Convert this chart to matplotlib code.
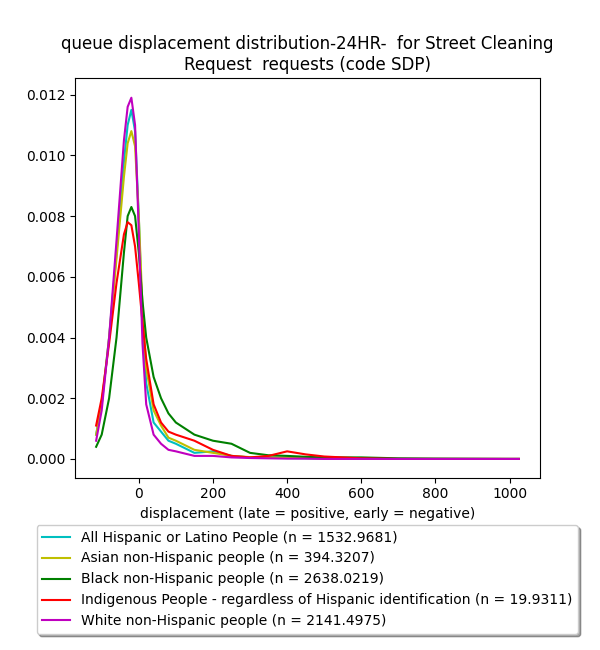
import matplotlib
matplotlib.use("Agg")
import matplotlib.pyplot as plt

x = [-115, -100, -80, -60, -40, -30, -20, -10, 0, 10, 20, 40, 60, 80, 100,
     150, 200, 250, 300, 350, 400, 450, 500, 600, 700, 800, 1000, 1025]

hispanic = [0.0008, 0.0018, 0.0040, 0.0068, 0.0098, 0.0110, 0.0115, 0.0108, 0.0080, 0.0045,
            0.0025, 0.0012, 0.0009, 0.0006, 0.0005, 0.0002, 0.00025, 0.0001, 0.00005, 0.00004,
            0.00003, 0.00002, 0.00001, 0.0, 0.0, 0.0, 0.0, 0.0]
asian = [0.0008, 0.0018, 0.0040, 0.0066, 0.0093, 0.0104, 0.0108, 0.0103, 0.0080, 0.0050,
         0.0030, 0.0016, 0.0011, 0.0007, 0.0006, 0.0003, 0.0002, 0.0001, 0.00006, 0.00005,
         0.00004, 0.00003, 0.00002, 0.00001, 0.0, 0.0, 0.0, 0.0]
black = [0.0004, 0.0008, 0.0020, 0.0040, 0.0068, 0.0080, 0.0083, 0.0080, 0.0068, 0.0052,
         0.0040, 0.0027, 0.0020, 0.0015, 0.0012, 0.0008, 0.0006, 0.0005, 0.0002, 0.00012,
         0.0001, 0.00007, 0.00005, 0.00005, 0.00002, 0.00001, 0.0, 0.0]
indigenous = [0.0011, 0.0020, 0.0038, 0.0058, 0.0074, 0.0078, 0.0077, 0.0070, 0.0058, 0.0045,
              0.0033, 0.0018, 0.0012, 0.0009, 0.0008, 0.0006, 0.0003, 0.0001, 0.00005, 0.0001,
              0.00025, 0.00015, 0.00008, 0.00002, 0.0, 0.0, 0.0, 0.0]
white = [0.0006, 0.0016, 0.0040, 0.0072, 0.0105, 0.0116, 0.0119, 0.0110, 0.0075, 0.0038,
         0.0018, 0.0008, 0.0005, 0.0003, 0.00025, 0.0001, 0.0001, 0.00005, 0.00003, 0.00002,
         0.00001, 0.00001, 0.0, 0.0, 0.0, 0.0, 0.0, 0.0]

series = [
    ("All Hispanic or Latino People (n = 1532.9681)", hispanic, "c"),
    ("Asian non-Hispanic people (n = 394.3207)", asian, "y"),
    ("Black non-Hispanic people (n = 2638.0219)", black, "g"),
    ("Indigenous People - regardless of Hispanic identification (n = 19.9311)", indigenous, "r"),
    ("White non-Hispanic people (n = 2141.4975)", white, "m"),
]

fig = plt.figure(figsize=(6, 6.5), dpi=100)
ax = fig.add_axes([0.125, 0.265, 0.775, 0.615])
for label, y, c in series:
    ax.plot(x, y, color=c, label=label)

ax.set_xlim(-172, 1082)
ax.set_ylim(-0.00062, 0.01255)
ax.set_xlabel("displacement (late = positive, early = negative)")
ax.set_title("queue displacement distribution-24HR-  for Street Cleaning\nRequest  requests (code SDP)")
fig.legend(loc="upper center", bbox_to_anchor=(0.512, 0.203), shadow=True, fancybox=True)
fig.savefig("out.png")
